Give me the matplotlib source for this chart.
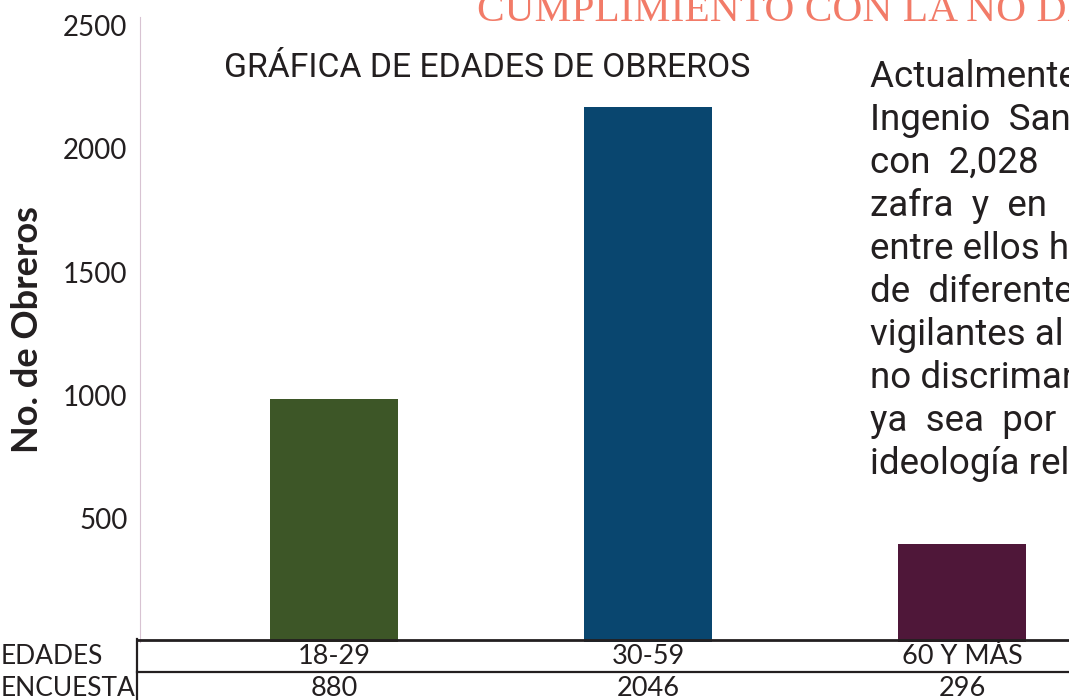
import matplotlib.pyplot as plt
from matplotlib.lines import Line2D
import matplotlib.transforms as mtransforms

# %% data
edades = ['18-29', '30-59', '60 Y MÁS']
encuesta = [880, 2046, 296]
# bar heights as drawn against the y axis of the original graphic
alturas = [986, 2171, 399]
colores = ['#3d5627', '#09466f', '#4f1739']
yticks = [500, 1000, 1500, 2000, 2500]

titulo = 'GRÁFICA DE EDADES DE OBREROS'
encabezado = 'CUMPLIMIENTO CON LA NO DISCRIMINACIÓN'
parrafo = ['Actualmente el', 'Ingenio  San', 'con  2,028', 'zafra  y  en',
           'entre ellos h', 'de  diferentes', 'vigilantes al', 'no discriman',
           'ya  sea  por', 'ideología reli']

W, H = 1069, 700
ink = '#231f20'


def fy(px):
    return 1 - px / H


# %% figure
fig = plt.figure(figsize=(W / 100, H / 100), dpi=100)
ax = fig.add_axes([140 / W, fy(642.3), 1 - 140 / W, (642.3 - 17) / H])

x = list(range(len(edades)))
ax.bar(x, alturas, width=0.408, color=colores)
ax.set_xlim(-0.618, 2.341)
ax.set_ylim(0, 2535)

ax.set_yticks(yticks)
ax.set_yticklabels([str(t) for t in yticks], fontfamily='Lato', fontsize=20, color=ink)
ax.tick_params(axis='y', length=0, pad=9)
ax.set_xticks([])
for s in ['top', 'right', 'bottom']:
    ax.spines[s].set_visible(False)
ax.spines['left'].set_color('#d8c3d2')
ax.spines['left'].set_linewidth(0.8)

fig.text(28 / W, fy(330), 'No. de Obreros', rotation=90, fontfamily='Lato',
         fontweight='bold', fontsize=26, color=ink, ha='center', va='center')

# %% table under the bars
for y_px, lw in [(640, 2.0), (672, 1.6)]:
    fig.add_artist(Line2D([137 / W, 1], [fy(y_px)] * 2, color=ink, lw=lw))
fig.add_artist(Line2D([137 / W] * 2, [fy(639), 0], color=ink, lw=1.6))

trans = mtransforms.blended_transform_factory(ax.transData, fig.transFigure)
for i in x:
    ax.text(i, fy(657), edades[i], transform=trans, ha='center', va='center',
            fontfamily='Lato', fontsize=19.5, color=ink, clip_on=False)
    ax.text(i, fy(689), str(encuesta[i]), transform=trans, ha='center', va='center',
            fontfamily='Lato', fontsize=19.5, color=ink, clip_on=False)

fig.text(0.001, fy(657), 'EDADES', fontfamily='Lato', fontsize=19, color=ink,
         ha='left', va='center')
fig.text(0.001, fy(689), 'ENCUESTA', fontfamily='Lato', fontsize=19, color=ink,
         ha='left', va='center')

# %% titles and side text
fig.text(224 / W, fy(77), titulo, fontfamily='Roboto', fontweight='normal', fontsize=24.3,
         color=ink, ha='left', va='baseline')
fig.text(477 / W, fy(21), encabezado, fontfamily='Liberation Serif', fontsize=29.8,
         color='#f27b68', ha='left', va='baseline')

for i, linea in enumerate(parrafo):
    fig.text(870 / W, fy(87 + i * 43), linea, fontfamily='Roboto', fontsize=26.5,
             color=ink, ha='left', va='baseline')

fig.savefig('out.png', dpi=100)
